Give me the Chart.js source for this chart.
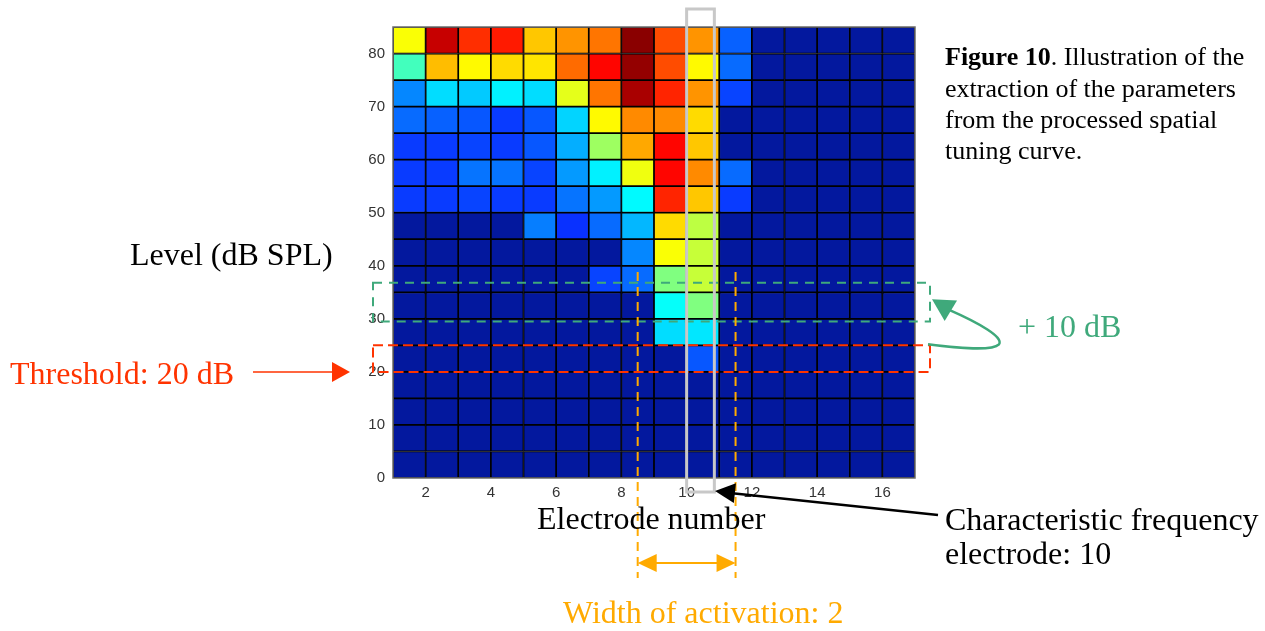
<!DOCTYPE html>
<html lang="en">
<head>
<meta charset="utf-8">
<title>Spatial tuning curve</title>
<script src="https://cdn.jsdelivr.net/npm/chart.js@4.4.0/dist/chart.umd.min.js"></script>
<style>
body { margin: 0; background: #fff; }
canvas { display: block; }
</style>
</head>
<body>
<canvas id="stc" width="1265" height="631"></canvas>
<script>
// electrode number along x, level bins (dB SPL, lower edge) along y, top row first
var electrodes = [1, 2, 3, 4, 5, 6, 7, 8, 9, 10, 11, 12, 13, 14, 15, 16];
var levels = [80, 75, 70, 65, 60, 55, 50, 45, 40, 35, 30, 25, 20, 15, 10, 5, 0];

// normalised response per level row, one value per electrode
var response = [
    [0.62, 0.93, 0.83, 0.85, 0.68, 0.73, 0.76, 0.99, 0.80, 0.73, 0.21, 0, 0, 0, 0, 0],
    [0.44, 0.69, 0.63, 0.66, 0.65, 0.77, 0.87, 0.98, 0.80, 0.63, 0.22, 0, 0, 0, 0, 0],
    [0.25, 0.34, 0.32, 0.36, 0.34, 0.60, 0.76, 0.96, 0.84, 0.73, 0.18, 0, 0, 0, 0, 0],
    [0.22, 0.21, 0.20, 0.17, 0.20, 0.33, 0.63, 0.74, 0.74, 0.66, 0, 0, 0, 0, 0, 0],
    [0.17, 0.17, 0.18, 0.17, 0.20, 0.29, 0.53, 0.71, 0.87, 0.68, 0, 0, 0, 0, 0, 0],
    [0.17, 0.17, 0.23, 0.23, 0.18, 0.27, 0.36, 0.61, 0.87, 0.74, 0.22, 0, 0, 0, 0, 0],
    [0.17, 0.17, 0.18, 0.17, 0.17, 0.23, 0.27, 0.37, 0.84, 0.68, 0.17, 0, 0, 0, 0, 0],
    [0, 0, 0, 0, 0.24, 0.16, 0.22, 0.30, 0.66, 0.56, 0, 0, 0, 0, 0, 0],
    [0, 0, 0, 0, 0, 0, 0, 0.25, 0.62, 0.57, 0, 0, 0, 0, 0, 0],
    [0, 0, 0, 0, 0, 0, 0.18, 0.22, 0.50, 0.57, 0, 0, 0, 0, 0, 0],
    [0, 0, 0, 0, 0, 0, 0, 0, 0.38, 0.50, 0, 0, 0, 0, 0, 0],
    [0, 0, 0, 0, 0, 0, 0, 0, 0.34, 0.35, 0, 0, 0, 0, 0, 0],
    [0, 0, 0, 0, 0, 0, 0, 0, 0, 0.20, 0, 0, 0, 0, 0, 0],
    [0, 0, 0, 0, 0, 0, 0, 0, 0, 0, 0, 0, 0, 0, 0, 0],
    [0, 0, 0, 0, 0, 0, 0, 0, 0, 0, 0, 0, 0, 0, 0, 0],
    [0, 0, 0, 0, 0, 0, 0, 0, 0, 0, 0, 0, 0, 0, 0, 0],
    [0, 0, 0, 0, 0, 0, 0, 0, 0, 0, 0, 0, 0, 0, 0, 0]
];

var xTicks = [2, 4, 6, 8, 10, 12, 14, 16];
var yTicks = [0, 10, 20, 30, 40, 50, 60, 70, 80];

// extracted parameters
var threshold = 20;
var cfElectrode = 10;
var activationWidth = 2;

var binSize = 5;
var RED = '#ff3300', GREEN = '#3fa97b', ORANGE = '#ffaa00';
var SERIF = '"Liberation Serif", "Times New Roman", serif';

// jet-like colour map
var jetStops = [
    [0, [3, 24, 158]],
    [0.14, [10, 30, 255]],
    [0.375, [0, 255, 255]],
    [0.625, [255, 255, 0]],
    [0.875, [255, 0, 0]],
    [1, [128, 0, 0]]
];

function jet(v) {
    for (var i = 1; i < jetStops.length; i++) {
        if (v <= jetStops[i][0]) {
            var a = jetStops[i - 1], b = jetStops[i];
            var t = (v - a[0]) / (b[0] - a[0]);
            var c = a[1].map(function(ch, k) { return Math.round(ch + (b[1][k] - ch) * t); });
            return 'rgb(' + c.join(',') + ')';
        }
    }
    return 'rgb(128,0,0)';
}

var datasets = levels.map(function(lv, r) {
    return {
        data: electrodes.map(function(e) { return { x: e + 0.5, y: [lv, lv + binSize] }; }),
        backgroundColor: response[r].map(jet),
        borderColor: '#000',
        borderWidth: 1.2,
        borderSkipped: false,
        grouped: false,
        barPercentage: 1,
        categoryPercentage: 1
    };
});

function arrowHead(ctx, tx, ty, fx, fy, len, half) {
    var ang = Math.atan2(ty - fy, tx - fx);
    ctx.beginPath();
    ctx.moveTo(tx, ty);
    ctx.lineTo(tx - len * Math.cos(ang) + half * Math.sin(ang), ty - len * Math.sin(ang) - half * Math.cos(ang));
    ctx.lineTo(tx - len * Math.cos(ang) - half * Math.sin(ang), ty - len * Math.sin(ang) + half * Math.cos(ang));
    ctx.closePath();
    ctx.fill();
}

var framePlugin = {
    id: 'frame',
    afterDatasetsDraw: function(chart) {
        var a = chart.chartArea, ctx = chart.ctx;
        ctx.save();
        ctx.strokeStyle = '#6b6b6b';
        ctx.lineWidth = 1.5;
        ctx.strokeRect(a.left, a.top, a.right - a.left, a.bottom - a.top);
        ctx.restore();
    }
};

var notesPlugin = {
    id: 'notes',
    afterDraw: function(chart) {
        var ctx = chart.ctx, a = chart.chartArea;
        var xs = chart.scales.x, ys = chart.scales.y;
        var bandL = a.left - 20, bandR = a.right + 15;
        ctx.save();

        // threshold band
        ctx.setLineDash([10, 5]);
        ctx.lineWidth = 2;
        ctx.strokeStyle = RED;
        var r1 = ys.getPixelForValue(threshold + binSize), r2 = ys.getPixelForValue(threshold);
        ctx.strokeRect(bandL, r1, bandR - bandL, r2 - r1);

        // threshold + 10 dB band
        ctx.setLineDash([9, 7]);
        ctx.strokeStyle = GREEN;
        var g1 = ys.getPixelForValue(threshold + 10 + 6.8), g2 = ys.getPixelForValue(threshold + 10 - 0.5);
        ctx.strokeRect(bandL, g1, bandR - bandL, g2 - g1);

        // activation width limits
        var firstActive = cfElectrode - activationWidth + 1;
        var wl = xs.getPixelForValue(firstActive - 0.5);
        var wr = xs.getPixelForValue(cfElectrode + 1 + 0.5);
        ctx.strokeStyle = ORANGE;
        ctx.setLineDash([9, 6]);
        [wl, wr].forEach(function(x) {
            ctx.beginPath();
            ctx.moveTo(x, 272);
            ctx.lineTo(x, 578);
            ctx.stroke();
        });
        ctx.setLineDash([]);
        ctx.fillStyle = ORANGE;
        ctx.beginPath();
        ctx.moveTo(wl + 10, 563);
        ctx.lineTo(wr - 10, 563);
        ctx.stroke();
        arrowHead(ctx, wl, 563, wr, 563, 19, 9);
        arrowHead(ctx, wr, 563, wl, 563, 19, 9);

        // characteristic frequency column
        ctx.strokeStyle = '#c8c8c8';
        ctx.lineWidth = 3;
        var cx1 = xs.getPixelForValue(cfElectrode), cx2 = xs.getPixelForValue(cfElectrode + 0.85);
        ctx.strokeRect(cx1, a.top - 18, cx2 - cx1, a.bottom - a.top + 32);

        // curved arrow from threshold to +10 dB
        ctx.strokeStyle = GREEN;
        ctx.fillStyle = GREEN;
        ctx.lineWidth = 2.5;
        ctx.beginPath();
        ctx.moveTo(bandR - 2, r1 - 1);
        ctx.bezierCurveTo(bandR + 30, r1 + 3, bandR + 62, r1 + 6, bandR + 69, r1 - 1);
        ctx.bezierCurveTo(bandR + 74, r1 - 8, bandR + 50, r1 - 22, bandR + 18, r1 - 36);
        ctx.stroke();
        arrowHead(ctx, bandR + 2, r1 - 46, bandR + 22, r1 - 34, 22, 12);

        // threshold arrow
        ctx.strokeStyle = RED;
        ctx.fillStyle = RED;
        ctx.lineWidth = 1.5;
        ctx.beginPath();
        ctx.moveTo(253, r2);
        ctx.lineTo(335, r2);
        ctx.stroke();
        arrowHead(ctx, 350, r2, 253, r2, 18, 10);

        // characteristic frequency arrow
        ctx.strokeStyle = '#000';
        ctx.fillStyle = '#000';
        ctx.lineWidth = 2.5;
        ctx.beginPath();
        ctx.moveTo(938, 515);
        ctx.lineTo(730, 493);
        ctx.stroke();
        arrowHead(ctx, 715, 491, 938, 515, 20, 10);

        // text
        ctx.textBaseline = 'alphabetic';
        ctx.textAlign = 'left';
        ctx.font = '32px ' + SERIF;
        ctx.fillStyle = '#000';
        ctx.fillText('Level (dB SPL)', 130, 265);
        ctx.fillText('Electrode number', 537, 529);
        ctx.fillText('Characteristic frequency', 945, 530);
        ctx.fillText('electrode: ' + cfElectrode, 945, 564);
        ctx.fillStyle = RED;
        ctx.fillText('Threshold: ' + threshold + ' dB', 10, 384);
        ctx.fillStyle = GREEN;
        ctx.fillText('+ 10 dB', 1018, 337);
        ctx.fillStyle = ORANGE;
        ctx.fillText('Width of activation: ' + activationWidth, 563, 623);

        ctx.fillStyle = '#000';
        ctx.font = 'bold 26px ' + SERIF;
        ctx.fillText('Figure 10', 945, 65);
        var w = ctx.measureText('Figure 10').width;
        ctx.font = '26px ' + SERIF;
        ctx.fillText('. Illustration of the', 945 + w, 65);
        ctx.fillText('extraction of the parameters', 945, 97);
        ctx.fillText('from the processed spatial', 945, 128);
        ctx.fillText('tuning curve.', 945, 159);
        ctx.restore();
    }
};

var tickFont = { family: '"Liberation Sans", Arial, sans-serif', size: 15 };

new Chart(document.getElementById('stc'), {
    type: 'bar',
    data: { datasets: datasets },
    options: {
        responsive: false,
        animation: false,
        layout: { padding: { left: 0, top: 27, right: 350, bottom: 113 } },
        plugins: { legend: { display: false }, tooltip: { enabled: false } },
        scales: {
            x: {
                type: 'linear',
                offset: false,
                min: 1,
                max: 17,
                grid: { display: false, drawTicks: false },
                border: { display: false },
                afterBuildTicks: function(s) { s.ticks = xTicks.map(function(v) { return { value: v }; }); },
                afterFit: function(s) { s.height = 40; },
                ticks: { font: tickFont, color: '#333', padding: 6, maxRotation: 0, autoSkip: false }
            },
            y: {
                type: 'linear',
                min: 0,
                max: 85,
                grid: { display: false, drawTicks: false },
                border: { display: false },
                afterBuildTicks: function(s) { s.ticks = yTicks.map(function(v) { return { value: v }; }); },
                afterFit: function(s) { s.width = 393; },
                ticks: { font: tickFont, color: '#333', padding: 8 }
            }
        }
    },
    plugins: [framePlugin, notesPlugin]
});
</script>
</body>
</html>
